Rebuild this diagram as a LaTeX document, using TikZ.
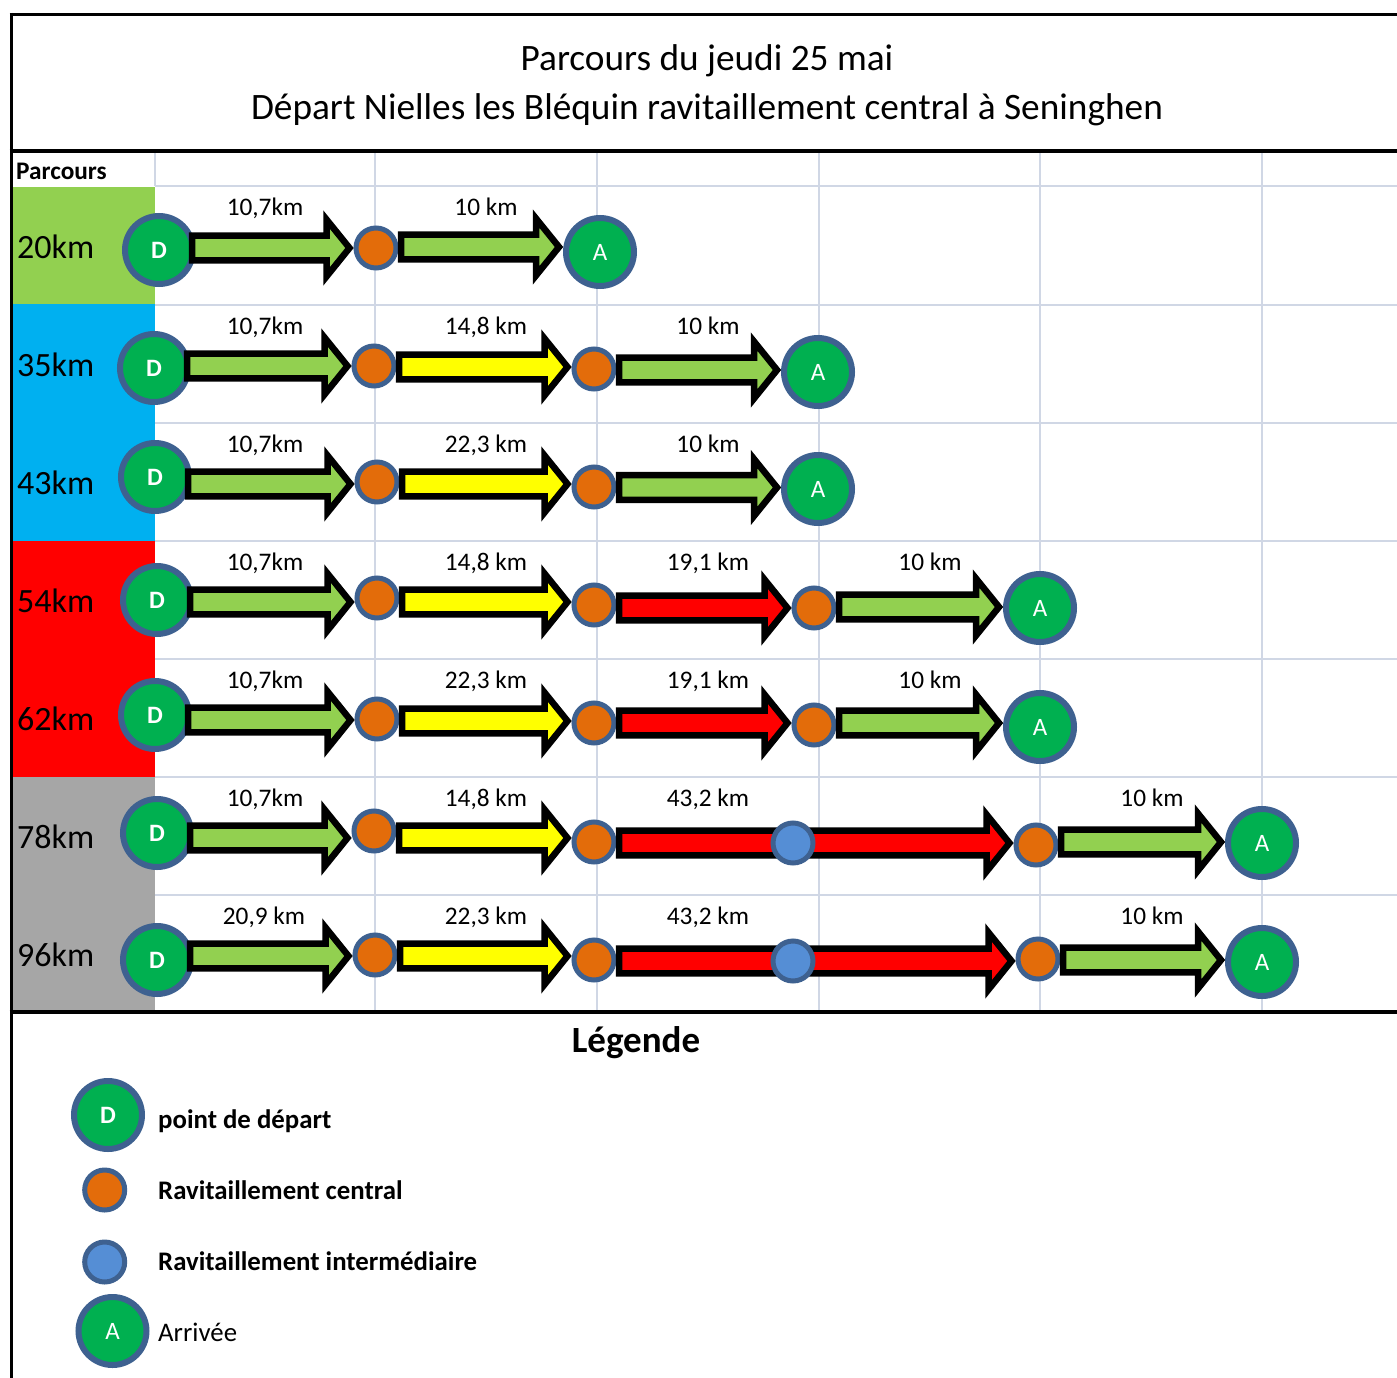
\documentclass[tikz,border=0pt]{standalone}
\usepackage{fontspec}
\setmainfont{Carlito}
\usetikzlibrary{calc}
\definecolor{cgreen}{HTML}{92D050}
\definecolor{cblue}{HTML}{00B0F0}
\definecolor{cred}{HTML}{FF0000}
\definecolor{cgray}{HTML}{A6A6A6}
\definecolor{cgrid}{HTML}{D0D7E5}
\definecolor{cring}{HTML}{3E6190}
\definecolor{cdgreen}{HTML}{00B050}
\definecolor{corange}{HTML}{E36C0A}
\definecolor{clblue}{HTML}{558ED5}
\definecolor{cyellow}{HTML}{FFFF00}
\tikzset{
  gridline/.style={draw=cgrid, line width=1.6pt},
  endpt/.style={circle, minimum size=68pt, inner sep=0pt, line width=6pt, draw=cring, fill=cdgreen, text=white, font=\fontsize{25}{30}\selectfont},
  deppt/.style={endpt, font=\bfseries\fontsize{25}{30}\selectfont},
  ravc/.style={circle, minimum size=40pt, inner sep=0pt, line width=5pt, draw=cring, fill=corange},
  ravi/.style={ravc, fill=clblue},
  arrowbox/.style={draw=black, line width=6.5pt, line join=miter, miter limit=10},
  lbl/.style={anchor=base, inner sep=0pt, font=\fontsize{25.3}{30}\selectfont},
  rowlbl/.style={anchor=base west, inner sep=0pt, font=\fontsize{34}{40}\selectfont},
  legtxt/.style={anchor=base west, inner sep=0pt, font=\bfseries\fontsize{26.8}{31}\selectfont},
}
\newcommand\blockarr[5][2.5]{%
  \draw[arrowbox, fill=#4] let \p1=(#2), \p2=($(#3)+(0,#5)$) in
   ({\x1+(#1pt)},{\y2+12.3pt}) -- ({\x2-27pt},{\y2+12.3pt}) -- ({\x2-27pt},{\y2+28.5pt}) --
   ({\x2-4pt},\y2) -- ({\x2-27pt},{\y2-28.5pt}) -- ({\x2-27pt},{\y2-12.3pt}) --
   ({\x1+(#1pt)},{\y2-12.3pt}) -- cycle;}
\begin{document}
\begin{tikzpicture}[x=1pt,y=-1pt]
\useasboundingbox (0,0) rectangle (1397,1378);
\fill[white] (0,0) rectangle (1397,1378);
% grid
\foreach \yy in {186,305,423,541,659,777,895} \draw[gridline] (155,\yy) -- (1397,\yy);
\foreach \xx in {375,597,819,1040,1262} \draw[gridline] (\xx,151) -- (\xx,1012);
\draw[gridline] (155,151) -- (155,186);
% coloured cells
\fill[cgreen] (12.5,186.5) rectangle (155,304);
\fill[cblue] (12.5,304) rectangle (155,541);
\fill[cred] (12.5,541) rectangle (155,777);
\fill[cgray] (12.5,777) rectangle (155,1012);
% borders
\draw[line width=3pt] (9.5,14.5) -- (1397,14.5);
\draw[line width=3pt] (11,13) -- (11,1378);
\draw[line width=4pt] (9.5,151.3) -- (1397,151.3);
\draw[line width=4pt] (9.5,1012) -- (1397,1012);
% titles
\node[anchor=base, inner sep=0pt, font=\fontsize{37.3}{44}\selectfont] (t1) at (707,71) {Parcours du jeudi 25 mai};
\node[anchor=base, inner sep=0pt, font=\fontsize{37.3}{44}\selectfont] (t2) at (707,120) {Départ Nielles les Bléquin ravitaillement central à Seninghen};
\node[anchor=base west, inner sep=0pt, font=\bfseries\fontsize{25.3}{30}\selectfont] (hp) at (16,179) {Parcours};
% row labels
\node[rowlbl] (r1) at (17,258) {20km};
\node[rowlbl] (r2) at (17,376.5) {35km};
\node[rowlbl] (r3) at (17,494.5) {43km};
\node[rowlbl] (r4) at (17,612.5) {54km};
\node[rowlbl] (r5) at (17,730.5) {62km};
\node[rowlbl] (r6) at (17,848.5) {78km};
\node[rowlbl] (r7) at (17,966) {96km};
% distance labels
\node[lbl] (l11) at (265,215) {10,7km};
\node[lbl] (l12) at (486,215) {10 km};
\node[lbl] (l21) at (265,334) {10,7km};
\node[lbl] (l22) at (486,334) {14,8 km};
\node[lbl] (l23) at (708,334) {10 km};
\node[lbl] (l31) at (265,452) {10,7km};
\node[lbl] (l32) at (486,452) {22,3 km};
\node[lbl] (l33) at (708,452) {10 km};
\node[lbl] (l41) at (265,570) {10,7km};
\node[lbl] (l42) at (486,570) {14,8 km};
\node[lbl] (l43) at (708,570) {19,1 km};
\node[lbl] (l44) at (930,570) {10 km};
\node[lbl] (l51) at (265,688) {10,7km};
\node[lbl] (l52) at (486,688) {22,3 km};
\node[lbl] (l53) at (708,688) {19,1 km};
\node[lbl] (l54) at (930,688) {10 km};
\node[lbl] (l61) at (265,806) {10,7km};
\node[lbl] (l62) at (486,806) {14,8 km};
\node[lbl] (l63) at (708,806) {43,2 km};
\node[lbl] (l64) at (1152,806) {10 km};
\node[lbl] (l71) at (264,924) {20,9 km};
\node[lbl] (l72) at (486,924) {22,3 km};
\node[lbl] (l73) at (708,924) {43,2 km};
\node[lbl] (l74) at (1152,924) {10 km};
% points
\node[deppt] (d1) at (159,250) {D};
\node[ravc] (o11) at (376,248) {};
\node[endpt] (a1) at (600,252) {A};
\node[deppt] (d2) at (154,368) {D};
\node[ravc] (o21) at (374,366) {};
\node[ravc] (o22) at (594,369) {};
\node[endpt] (a2) at (818,372) {A};
\node[deppt] (d3) at (155,477) {D};
\node[ravc] (o31) at (377,482) {};
\node[ravc] (o32) at (594,487) {};
\node[endpt] (a3) at (818,489) {A};
\node[deppt] (d4) at (157,600) {D};
\node[ravc] (o41) at (377,598) {};
\node[ravc] (o42) at (594,605) {};
\node[ravc] (o43) at (814,608) {};
\node[endpt] (a4) at (1040,608) {A};
\node[deppt] (d5) at (155,715) {D};
\node[ravc] (o51) at (377,719) {};
\node[ravc] (o52) at (594,723) {};
\node[ravc] (o53) at (814,725) {};
\node[endpt] (a5) at (1040,727) {A};
\node[deppt] (d6) at (157,833) {D};
\node[ravc] (o61) at (374,831) {};
\node[ravc] (o62) at (594,842) {};
\node[ravc] (o63) at (1036,845) {};
\node[endpt] (a6) at (1262,843) {A};
\node[deppt] (d7) at (157,960) {D};
\node[ravc] (o71) at (375,955) {};
\node[ravc] (o72) at (594,960) {};
\node[ravc] (o73) at (1038,959) {};
\node[endpt] (a7) at (1262,962) {A};
% arrows
\blockarr[-4]{d1.east}{o11.west}{cgreen}{0}
\blockarr{o11.east}{a1.west}{cgreen}{-5}
\blockarr[-4]{d2.east}{o21.west}{cgreen}{0}
\blockarr{o21.east}{o22.west}{cyellow}{-2}
\blockarr{o22.east}{a2.west}{cgreen}{-2}
\blockarr[-4]{d3.east}{o31.west}{cgreen}{2}
\blockarr{o31.east}{o32.west}{cyellow}{-3}
\blockarr{o32.east}{a3.west}{cgreen}{-1.5}
\blockarr[-4]{d4.east}{o41.west}{cgreen}{4}
\blockarr{o41.east}{o42.west}{cyellow}{-3}
\blockarr{o42.east}{o43.west}{cred}{0}
\blockarr{o43.east}{a4.west}{cgreen}{-1}
\blockarr[-4]{d5.east}{o51.west}{cgreen}{1}
\blockarr{o51.east}{o52.west}{cyellow}{-2}
\blockarr{o52.east}{o53.west}{cred}{-2}
\blockarr{o53.east}{a5.west}{cgreen}{-4}
\blockarr[-4]{d6.east}{o61.west}{cgreen}{7}
\blockarr{o61.east}{o62.west}{cyellow}{-4}
\blockarr{o62.east}{o63.west}{cred}{-2}
\blockarr{o63.east}{a6.west}{cgreen}{-1}
\blockarr[-4]{d7.east}{o71.west}{cgreen}{1}
\blockarr{o71.east}{o72.west}{cyellow}{-4}
\blockarr{o72.east}{o73.west}{cred}{2}
\blockarr{o73.east}{a7.west}{cgreen}{-2}
% intermediate stops on top of the long arrows
\node[ravi] (b6) at (793,843) {};
\node[ravi] (b7) at (793,961) {};
% legend
\node[anchor=base, inner sep=0pt, font=\bfseries\fontsize{37}{44}\selectfont] (leg) at (636,1052) {Légende};
\node[deppt] (ld) at (108,1115) {D};
\node[ravc] (lo) at (104.7,1190) {};
\node[ravi] (lb) at (104.7,1262) {};
\node[endpt] (la) at (112.5,1331) {A};
\node[legtxt] (ldt) at (158,1128) {point de départ};
\node[legtxt] (lot) at (158,1199) {Ravitaillement central};
\node[legtxt] (lbt) at (158,1270) {Ravitaillement intermédiaire};
\node[legtxt, font=\fontsize{26.8}{31}\selectfont] (lat) at (158,1341) {Arrivée};
\end{tikzpicture}
\end{document}
